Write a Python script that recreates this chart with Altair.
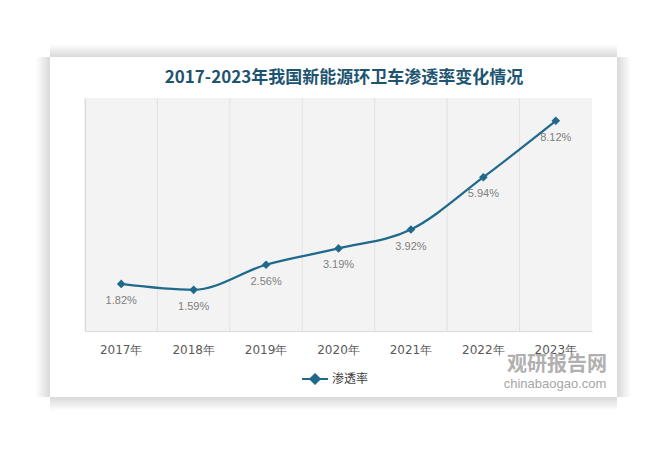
import altair as alt
import pandas as pd

# ---- data ----
years = ["2017年", "2018年", "2019年", "2020年", "2021年", "2022年", "2023年"]
rates = [1.82, 1.59, 2.56, 3.19, 3.92, 5.94, 8.12]
rate_labels = ["1.82%", "1.59%", "2.56%", "3.19%", "3.92%", "5.94%", "8.12%"]
series_name = "渗透率"
title_text = "2017-2023年我国新能源环卫车渗透率变化情况"
wm_cn = "观研报告网"
wm_en = "chinabaogao.com"

df = pd.DataFrame({
    "year": years,
    "rate": rates,
    "label": rate_labels,
    "series": [series_name] * len(years),
})

# ---- layout ----
OX, OY = 85, 98          # plot origin in page pixels
W, H = 507, 233          # plot size
PAGE_W, PAGE_H = 667, 450
LINE_COLOR = "#1f6a8c"
one = pd.DataFrame({"a": [0]})


def rx(v):
    return v - OX


def ry(v):
    return v - OY


def grad(x2, y2, stops):
    return {"gradient": "linear", "x1": 0, "y1": 0, "x2": x2, "y2": y2,
            "stops": [{"offset": o, "color": c} for o, c in stops]}


SH = "#d9d9d9"
shadows = []
strips = [
    (50, 617, 44, 57, grad(0, 1, [(0, "#ffffff"), (1, SH)])),
    (50, 617, 397, 411, grad(0, 1, [(0, SH), (1, "#ffffff")])),
    (36, 50, 57, 397, grad(1, 0, [(0, "#ffffff"), (1, SH)])),
    (617, 631, 57, 397, grad(1, 0, [(0, SH), (1, "#ffffff")])),
]
for x1, x2, y1, y2, g in strips:
    shadows.append(
        alt.Chart(one).mark_rect(fill=g, strokeWidth=0).encode(
            x=alt.value(rx(x1)), x2=alt.value(rx(x2)),
            y=alt.value(ry(y1)), y2=alt.value(ry(y2)))
    )

x_scale = alt.Scale(type="band", paddingInner=0, paddingOuter=0)
x_axis = alt.Axis(labelFont="DejaVu Sans", labelFontSize=12,
                  labelColor="#595959", labelPadding=13, ticks=False,
                  grid=False, domainColor="#d9d9d9", labelAngle=0)
y_scale = alt.Scale(domain=[0, 9])
y_axis = alt.Axis(labels=False, ticks=False, grid=False, domainColor="#d0d0d0")

base = alt.Chart(df)

grid = base.mark_rule(color="#e2e2e2", strokeWidth=1).encode(
    x=alt.X("year:N", sort=years, bandPosition=0, scale=x_scale, axis=x_axis,
            title=None),
    y=alt.value(0),
    y2=alt.value(H))

line = base.mark_line(strokeWidth=2.25, interpolate="monotone").encode(
    x=alt.X("year:N", sort=years, bandPosition=0.5),
    y=alt.Y("rate:Q", title=None, scale=y_scale, axis=y_axis),
    color=alt.Color("series:N", scale=alt.Scale(range=[LINE_COLOR]),
                    legend=alt.Legend(
                        title=None, orient="none", legendX=216, legendY=267,
                        symbolType="M-1,0L1,0M0,-0.36L0.36,0L0,0.36L-0.36,0Z",
                        symbolSize=676, symbolStrokeWidth=2,
                        symbolFillColor=LINE_COLOR, symbolStrokeColor=LINE_COLOR,
                        labelFont="Noto Sans CJK SC", labelFontSize=12,
                        labelColor="#404040", labelOffset=3, padding=0)),
)

points = base.mark_point(shape="diamond", filled=True, size=75, opacity=1,
                         color=LINE_COLOR).encode(
    x=alt.X("year:N", sort=years, bandPosition=0.5),
    y=alt.Y("rate:Q"),
)

texts = base.mark_text(dy=17, fontSize=11, color="#7f7f7f",
                       font="Liberation Sans").encode(
    x=alt.X("year:N", sort=years, bandPosition=0.5),
    y=alt.Y("rate:Q"),
    text="label:N",
)

title = alt.Chart(one).mark_text(text=title_text, font="Noto Sans CJK SC",
                                 fontSize=17, fontWeight="bold",
                                 color="#1d5470", align="center",
                                 baseline="middle").encode(
    x=alt.value(rx(344)), y=alt.value(ry(78)))

wm1 = alt.Chart(one).mark_text(text=wm_cn, font="Noto Sans CJK SC",
                               fontWeight="bold", fontSize=20,
                               color="#b0b0b0", align="center",
                               baseline="middle").encode(
    x=alt.value(rx(557)), y=alt.value(ry(365)))
wm2 = alt.Chart(one).mark_text(text=wm_en, font="Liberation Sans",
                               fontSize=13, color="#a6a6a6", align="center",
                               baseline="middle").encode(
    x=alt.value(rx(555)), y=alt.value(ry(384)))

chart = alt.layer(*shadows, grid, line, points, texts, title, wm1,
                  wm2).properties(
    width=W, height=H,
    background="#ffffff",
    autosize=alt.AutoSizeParams(type="none"),
    padding={"left": OX, "top": OY, "right": PAGE_W - OX - W,
             "bottom": PAGE_H - OY - H},
).configure_view(fill="#f3f3f3", stroke=None)

chart.save("out.html", embed_options={"renderer": "svg", "actions": False})
